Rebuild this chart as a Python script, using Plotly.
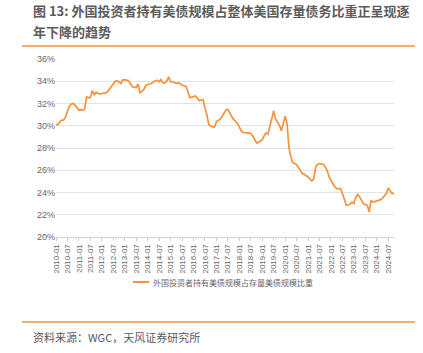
import plotly.graph_objects as go

# Monthly data 2010-01 .. 2024-10 (share of US debt held by foreign investors, %)
y2010 = [30.1, 30.1, 30.35, 30.5, 30.5, 30.8, 31.3, 31.75, 31.95, 32.0, 31.85, 31.6]
y2011 = [31.4, 31.45, 31.4, 31.5, 32.6, 32.5, 32.55, 33.15, 32.8, 33.0, 32.9, 32.85]
y2012 = [32.9, 32.9, 32.95, 33.05, 33.3, 33.55, 33.85, 34.0, 34.05, 33.95, 33.8, 34.15]
y2013 = [34.15, 34.1, 34.05, 33.8, 33.5, 33.45, 33.45, 33.75, 32.97, 33.1, 33.27, 33.6]
y2014 = [33.72, 33.75, 33.8, 33.95, 34.05, 34.1, 33.95, 34.15, 33.85, 33.85, 34.0, 34.4]
y2015 = [33.95, 33.95, 33.9, 33.8, 33.85, 33.8, 33.65, 33.6, 33.55, 33.1, 32.55, 32.55]
y2016 = [32.6, 32.67, 32.5, 32.25, 32.3, 32.35, 31.6, 31.0, 30.1, 29.96, 29.9, 29.9]
y2017 = [30.35, 30.5, 30.57, 30.86, 31.2, 31.4, 31.47, 31.1, 30.85, 30.57, 30.4, 30.2]
y2018 = [29.9, 29.54, 29.4, 29.36, 29.36, 29.36, 29.3, 29.1, 28.8, 28.45, 28.5, 28.64]
y2019 = [28.75, 29.1, 29.36, 29.24, 29.9, 30.6, 31.34, 30.6, 30.35, 30.05, 29.54, 30.2]
y2020 = [30.86, 30.2, 28.0, 27.2, 26.66, 26.6, 26.5, 26.24, 26.0, 25.7, 25.64, 25.55]
y2021 = [25.4, 25.2, 25.04, 25.25, 26.3, 26.54, 26.6, 26.55, 26.54, 26.3, 26.0, 25.4]
y2022 = [25.1, 24.86, 24.5, 24.35, 24.35, 24.35, 23.9, 23.4, 22.85, 22.9, 22.94, 23.14]
y2023 = [23.0, 23.6, 23.83, 23.6, 23.3, 23.0, 22.9, 22.85, 22.25, 23.3, 23.14, 23.2]
y2024 = [23.3, 23.3, 23.36, 23.5, 23.66, 23.9, 24.4, 24.1, 23.9, 23.95]

years = list(range(2010, 2025))
yearly = [y2010, y2011, y2012, y2013, y2014, y2015, y2016, y2017,
          y2018, y2019, y2020, y2021, y2022, y2023, y2024]

months = []
values = []
for yr, vals in zip(years, yearly):
    for i, v in enumerate(vals):
        months.append(f"{yr}-{i+1:02d}")
        values.append(v)

tick_labels = [m for m in months if m.endswith("-01") or m.endswith("-07")]
y_ticks = [20, 22, 24, 26, 28, 30, 32, 34, 36]

series_name = "外国投资者持有美债规模占存量美债规模比重"
title_line1 = "图 13: 外国投资者持有美债规模占整体美国存量债务比重正呈现逐"
title_line2 = "年下降的趋势"
source_text = "资料来源：WGC，天风证券研究所"

ORANGE = "#F4923E"
W, H = 423, 353
L, R, T, B = 56, 394, 59, 237

def px_x(p):
    return (p - L) / (R - L)

def px_y(p):
    return (B - p) / (B - T)

CJK = "Noto Sans CJK SC"

fig = go.Figure()
fig.add_trace(go.Scatter(
    x=months, y=values, mode="lines", name=series_name,
    line=dict(color=ORANGE, width=1.7), showlegend=False,
))

fig.update_layout(
    width=W, height=H,
    margin=dict(l=L, r=W - R, t=T, b=H - B, pad=0),
    paper_bgcolor="white", plot_bgcolor="white",
    font=dict(family=CJK, color="#666666"),
    xaxis=dict(
        type="category", range=[0, len(months) - 1],
        tickmode="array", tickvals=tick_labels, ticktext=tick_labels,
        tickangle=-90, tickfont=dict(size=8, color="#666666", family="Liberation Sans"),
        showgrid=False, showline=True, linecolor="#d0d0d0", linewidth=1,
        ticks="outside", ticklen=3, tickcolor="#d0d0d0", zeroline=False,
    ),
    yaxis=dict(
        range=[20, 36], tickmode="array", tickvals=y_ticks,
        ticktext=[f"{v}%" for v in y_ticks],
        tickfont=dict(size=9, color="#666666", family="Liberation Sans"),
        showgrid=True, gridcolor="#e3e3e3", gridwidth=1.2,
        zeroline=False, showline=False, ticks="", ticklen=0,
    ),
)

annotations = [
    dict(text=f"<b>{title_line1}</b>", x=px_x(31), y=px_y(10), xref="paper", yref="paper",
         xanchor="left", yanchor="middle", showarrow=False,
         font=dict(size=13, color="#5c5c5c", family=CJK)),
    dict(text=f"<b>{title_line2}</b>", x=px_x(31), y=px_y(32), xref="paper", yref="paper",
         xanchor="left", yanchor="middle", showarrow=False,
         font=dict(size=13, color="#5c5c5c", family=CJK)),
    dict(text=series_name, x=px_x(151), y=px_y(282), xref="paper", yref="paper",
         xanchor="left", yanchor="middle", showarrow=False,
         font=dict(size=8, color="#666666", family=CJK)),
    dict(text=source_text, x=px_x(31), y=px_y(337), xref="paper", yref="paper",
         xanchor="left", yanchor="middle", showarrow=False,
         font=dict(size=11, color="#595959", family=CJK)),
]

shapes = [
    dict(type="line", xref="paper", yref="paper", x0=px_x(22), x1=px_x(415),
         y0=px_y(46), y1=px_y(46), line=dict(color=ORANGE, width=1.5)),
    dict(type="line", xref="paper", yref="paper", x0=px_x(22), x1=px_x(415),
         y0=px_y(322), y1=px_y(322), line=dict(color=ORANGE, width=1.5)),
    dict(type="line", xref="paper", yref="paper", x0=px_x(133), x1=px_x(149),
         y0=px_y(282), y1=px_y(282), line=dict(color=ORANGE, width=2)),
]

fig.update_layout(annotations=annotations, shapes=shapes)

fig.write_html("out.html")
